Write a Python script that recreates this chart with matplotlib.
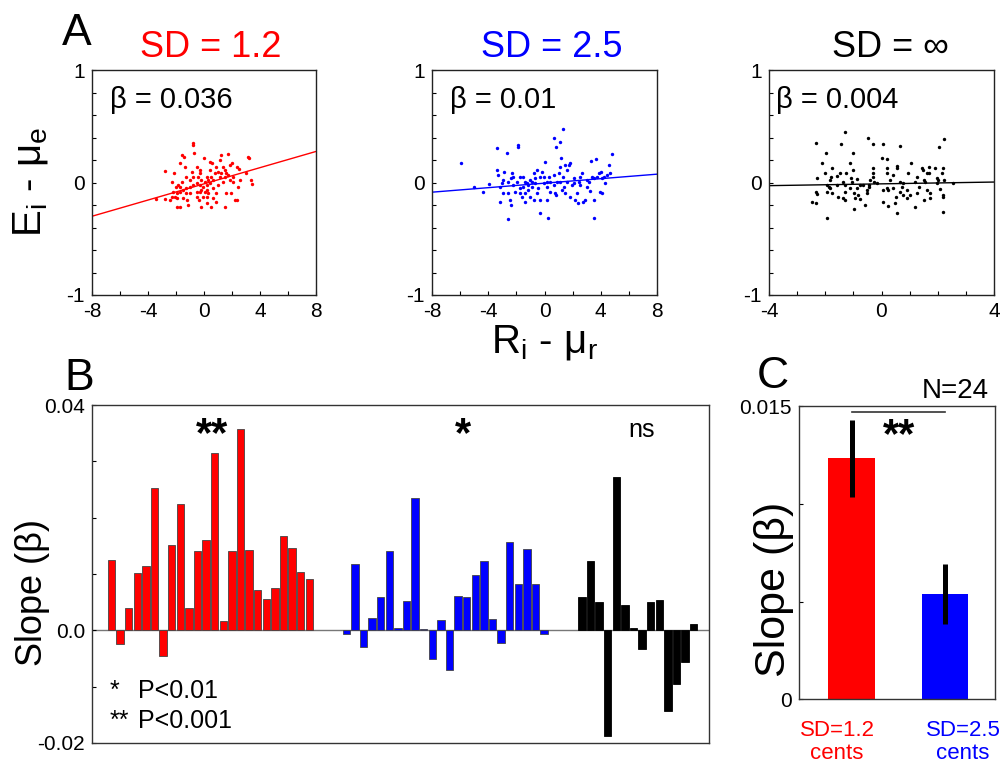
import numpy as np
import matplotlib
matplotlib.use("Agg")
import matplotlib.pyplot as plt

plt.rcParams['font.family'] = ['Liberation Sans', 'DejaVu Sans']
plt.rcParams['mathtext.fontset'] = 'custom'
plt.rcParams['mathtext.rm'] = 'Liberation Sans'
plt.rcParams['axes.unicode_minus'] = False

# ---------------- data ----------------
# Panel A scatter (R_i - mu_r, E_i - mu_e)
x_sd12 = [-0.82,-0.82,-0.73,-1.58,-1.41,-2.75,-2.13,-2.27,-2.03,-2.20,-1.72,-1.34,-0.49,-0.27,0.01,0.46,0.58,1.13,1.22,1.72,
          1.37,1.53,1.84,2.01,2.34,2.53,3.15,3.22,3.39,3.44,2.56,2.41,2.37,1.51,0.51,-0.20,-0.37,-0.53,-1.22,-1.72,
          -1.96,-3.44,-2.75,-1.96,-1.49,-1.01,-0.30,0.18,0.65,1.01,1.37,1.84,2.08,1.60,1.13,0.65,0.42,0.18,-0.06,-0.30,
          -0.53,-0.77,-1.01,-1.25,-1.49,-1.72,-1.96,-2.08,-2.32,-2.44,-1.01,-0.77,-0.42,-0.18,0.06,0.30,0.53,0.77,1.01,1.25,
          1.49,1.72,2.08,1.96,1.60,0.89,0.65,0.18,-0.06,-0.53,-1.25,-1.72,0.18,0.42,0.89,-0.30,-0.89,-1.25,-1.60,-1.84,
          0.18,-1.13,0.89,2.20,3.03,0.30,0.06,-0.18]
y_sd12 = [0.354,0.330,0.259,0.244,0.224,0.105,0.081,0.007,-0.037,-0.081,0.170,0.141,0.141,0.081,0.215,0.185,0.170,0.200,0.244,0.253,
          0.135,0.111,0.156,0.170,0.141,0.120,0.230,0.215,0.022,-0.013,0.022,-0.037,-0.156,-0.215,-0.215,-0.221,-0.156,-0.126,-0.156,-0.215,
          -0.215,-0.150,-0.150,-0.141,-0.141,-0.096,-0.081,-0.067,-0.052,-0.022,0.007,0.022,0.052,0.081,0.052,0.022,-0.007,-0.022,-0.037,-0.022,
          -0.007,-0.022,-0.037,-0.052,-0.067,-0.081,-0.096,-0.126,-0.126,-0.156,0.022,0.052,0.052,0.022,0.007,0.022,0.052,0.081,0.096,0.081,
          0.052,0.067,0.007,-0.096,-0.096,-0.096,-0.141,-0.126,-0.126,-0.081,-0.096,-0.037,0.052,0.111,0.141,0.111,0.096,0.052,0.007,-0.022,
          -0.185,-0.200,-0.170,-0.156,0.081,-0.096,-0.081,-0.067]

x_sd25 = [-5.96,-4.99,-4.39,-3.94,-3.40,-3.40,-3.28,-3.16,-3.04,-2.92,-2.87,-2.68,-2.61,-2.45,-2.40,-2.40,-2.33,-2.21,-2.09,-1.97,
          -1.90,-1.85,-1.73,-1.62,-1.54,-1.50,-1.38,-1.26,-1.14,-1.02,-0.90,-0.78,-0.67,-0.55,-0.43,-0.31,-0.19,-0.07,0.05,0.17,
          0.29,0.40,0.64,0.76,0.83,0.88,1.00,1.12,1.16,1.12,1.31,0.81,0.64,1.35,1.40,1.47,1.59,1.71,1.83,1.83,
          1.95,2.07,2.19,2.30,2.35,2.42,2.54,2.66,2.73,2.90,3.02,3.14,3.25,3.30,3.37,3.49,3.54,3.68,3.73,3.85,
          3.97,4.01,4.09,4.20,4.32,4.44,4.56,4.63,4.82,-0.31,0.24,-2.57,-3.16,-2.92,-2.57,-2.21,-1.73,-1.38,-1.14,-0.90,
          -0.67,-0.31,-0.07,0.17,0.40,0.64,1.12,1.59,2.07,2.54,3.02,3.49,4.09,-1.73,-1.38,-1.02,-0.78,-0.55,0.17,1.24,1.47]
y_sd25 = [0.176,-0.037,-0.081,-0.016,0.310,0.111,0.067,-0.170,-0.007,0.022,0.096,0.259,-0.090,-0.156,-0.200,0.037,0.081,-0.022,-0.081,0.007,
          0.319,0.333,-0.052,-0.126,0.052,-0.037,-0.096,-0.007,-0.067,0.022,0.007,0.081,-0.007,0.111,-0.052,-0.156,0.096,-0.007,0.179,-0.037,
          0.052,-0.081,0.067,-0.096,-0.111,0.007,0.081,0.141,0.221,0.363,0.476,0.319,0.393,0.052,-0.037,0.156,0.111,0.156,0.170,-0.126,
          -0.022,0.037,-0.156,-0.096,-0.185,0.007,0.052,0.081,-0.176,-0.156,-0.037,0.007,-0.073,0.191,0.052,-0.156,-0.319,0.206,0.052,0.081,
          -0.081,0.096,-0.096,0.052,-0.007,0.067,0.156,0.081,0.250,-0.268,-0.313,-0.324,-0.037,-0.096,0.007,0.052,0.052,0.007,-0.022,-0.037,
          0.037,0.052,0.052,0.007,0.007,-0.022,0.007,0.007,-0.007,-0.022,0.022,0.037,0.037,-0.096,-0.170,-0.126,-0.156,-0.096,-0.156,-0.067,-0.096]

x_inf = [-2.46,-2.33,-2.33,-2.30,-2.30,-2.34,-2.10,-2.01,-1.97,-1.95,-1.95,-1.95,-1.85,-1.83,-1.79,-1.76,-1.76,-1.59,-1.53,-1.47,
         -1.45,-1.36,-1.30,-1.30,-1.30,-1.30,-1.26,-1.12,-1.08,-1.06,-1.00,-1.00,-0.97,-0.97,-0.94,-0.88,-0.86,-0.82,-0.76,-0.76,
         -0.65,-0.59,-0.53,-0.53,-0.47,-0.43,-0.43,-0.31,-0.31,-0.29,-0.29,-0.27,0.01,0.04,0.04,0.04,0.18,0.18,0.18,0.21,
         0.22,0.24,0.42,0.42,0.48,0.52,0.54,0.54,0.56,0.66,0.66,0.66,0.72,0.78,0.89,0.92,0.95,1.01,1.04,1.19,
         1.19,1.25,1.34,1.43,1.48,1.51,1.51,1.55,1.61,1.70,1.70,1.72,1.72,1.90,1.96,2.02,2.06,2.08,2.20,2.20,
         2.20,2.20,2.22,2.22,2.53,-1.83,-1.59,-1.36,-1.12,-0.41,-0.17,0.30,0.78,1.25,1.61,1.96,2.14]
y_inf = [-0.170,-0.179,0.348,0.037,-0.102,-0.081,0.170,0.087,0.265,-0.022,-0.313,-0.081,-0.037,0.022,0.052,0.126,-0.090,0.058,-0.126,0.087,
         0.342,-0.141,0.446,-0.022,-0.081,-0.156,0.081,0.170,0.037,0.007,0.265,0.111,-0.096,-0.236,-0.141,0.028,-0.046,-0.111,-0.022,-0.150,
         -0.022,-0.200,-0.096,-0.067,0.399,-0.022,-0.037,0.081,0.052,0.339,0.126,0.007,0.221,0.339,-0.067,-0.170,0.081,-0.052,0.206,0.132,
         -0.209,-0.067,-0.052,0.067,-0.179,-0.126,0.126,0.147,-0.268,0.327,0.007,-0.081,-0.037,-0.111,-0.141,-0.067,0.081,-0.111,0.170,0.001,
         -0.221,-0.090,-0.037,0.126,0.111,0.022,-0.156,0.007,0.081,0.081,0.141,-0.096,-0.141,0.126,0.037,0.022,0.319,-0.058,0.126,-0.111,
         -0.126,-0.259,0.384,0.022,-0.007,-0.052,-0.022,0.007,-0.052,0.022,-0.007,0.022,-0.007,0.052,-0.067,-0.001,0.081]

a_titles = ['SD = 1.2', 'SD = 2.5', 'SD = \u221e']
a_colors = ['#ff0000', '#0000ff', '#000000']
a_betas = [0.036, 0.01, 0.004]
a_intercepts = [-0.012, -0.006, -0.012]
a_beta_labels = ['\u03b2 = 0.036', '\u03b2 = 0.01', '\u03b2 = 0.004']

# Panel B slopes per subject
slopes_sd12 = [0.0125, -0.0025, 0.0039, 0.0101, 0.0115, 0.0253, -0.0046, 0.0151, 0.0225, 0.0039, 0.0141, 0.0160,
               0.0314, 0.0017, 0.0141, 0.0358, 0.0142, 0.0071, 0.0056, 0.0076, 0.0167, 0.0147, 0.0104, 0.0092]
slopes_sd25 = [-0.0006, 0.0118, -0.0030, 0.0022, 0.0059, 0.0141, 0.0005, 0.0052, 0.0235, 0.0003, -0.0051, 0.0019,
               -0.0070, 0.0061, 0.0059, 0.0099, 0.0123, 0.0021, -0.0022, 0.0157, 0.0082, 0.0144, 0.0083, -0.0006]
slopes_inf = [0.0060, 0.0123, 0.0050, -0.0188, 0.0273, 0.0045, 0.0004, -0.0033, 0.0050, 0.0053, -0.0143, -0.0096,
              -0.0056, 0.0012]

# Panel C mean slopes
c_means = [0.01233, 0.00537]
c_errs = [0.00196, 0.00153]
c_labels = ['SD=1.2\ncents', 'SD=2.5\ncents']

# ---------------- figure ----------------
W, H = 1007, 769
fig = plt.figure(figsize=(W / 100, H / 100), dpi=100)

def rect(l, r, t, b):
    return [l / W, 1 - b / H, (r - l) / W, (b - t) / H]

def px(x, y):
    return (x / W, 1 - y / H)

a_rects = [rect(92, 316, 70, 295), rect(432, 657, 70, 295), rect(769, 994, 70, 295)]
a_xlims = [(-8, 8), (-8, 8), (-4, 4)]
a_xdata = [x_sd12, x_sd25, x_inf]
a_ydata = [y_sd12, y_sd25, y_inf]
title_pos = [(211, 57), (552, 57), (890, 57)]
beta_pos = [(110, 108), (450, 108), (776, 108)]

for i in range(3):
    ax = fig.add_axes(a_rects[i])
    ax.scatter(a_xdata[i], a_ydata[i], s=6, color=a_colors[i], linewidths=0, zorder=3)
    xl = np.array(a_xlims[i], dtype=float)
    ax.plot(xl, a_betas[i] * xl + a_intercepts[i], color=a_colors[i], lw=1.0)
    ax.set_xlim(*a_xlims[i])
    ax.set_ylim(-1, 1)
    if i < 2:
        ax.set_xticks(np.arange(-8, 9, 2))
        ax.set_xticklabels(['-8', '', '-4', '', '0', '', '4', '', '8'])
    else:
        ax.set_xticks(np.arange(-4, 5, 1))
        ax.set_xticklabels(['-4', '', '', '', '0', '', '', '', '4'])
    ax.set_yticks(np.linspace(-1, 1, 11))
    ax.set_yticklabels(['-1', '', '', '', '', '0', '', '', '', '', '1'])
    ax.tick_params(direction='in', length=3, width=0.8, labelsize=15, pad=5)
    for s in ax.spines.values():
        s.set_linewidth(1.0)
        s.set_color('#222222')
    fig.text(*px(*title_pos[i]), a_titles[i], color=a_colors[i], fontsize=26,
             ha='center', va='baseline')
    fig.text(*px(*beta_pos[i]), a_beta_labels[i], fontsize=21, ha='left', va='baseline')

mu = '\u03bc'
fig.text(*px(30, 182), 'E$_\\mathregular{i}$ - ' + mu + '$_\\mathregular{e}$',
         fontsize=29, rotation=90, ha='center', va='center')
fig.text(*px(545, 352), 'R$_\\mathregular{i}$ - ' + mu + '$_\\mathregular{r}$',
         fontsize=29, ha='center', va='baseline')

# Panel B
axb = fig.add_axes(rect(92, 709, 405, 743))
xr = np.arange(len(slopes_sd12))
xb = 27.3 + np.arange(len(slopes_sd25))
xk = 54.7 + np.arange(len(slopes_inf))
axb.bar(xr, slopes_sd12, width=0.85, color='#ff0000', edgecolor='#444444', linewidth=0.6, zorder=2)
axb.bar(xb, slopes_sd25, width=0.85, color='#0000ff', edgecolor='#444444', linewidth=0.6, zorder=2)
axb.bar(xk, slopes_inf, width=0.85, color='#000000', edgecolor='#000000', linewidth=0.6, zorder=2)
axb.axhline(0, color='#777777', lw=1.0, zorder=1)
axb.set_xlim(-2.27, 69.48)
axb.set_ylim(-0.02, 0.04)
axb.set_xticks([])
axb.set_yticks([-0.02, -0.01, 0, 0.01, 0.02, 0.03, 0.04])
axb.set_yticklabels(['-0.02', '', '0.0', '', '', '', '0.04'])
axb.tick_params(axis='y', direction='in', length=3, width=0.8, labelsize=15, pad=5)
for s in axb.spines.values():
    s.set_linewidth(1.0)
    s.set_color('#333333')
fig.text(*px(33, 592), 'Slope (\u03b2)', fontsize=26, rotation=90, ha='center', va='center')
fig.text(*px(212, 446), '**', fontsize=30, fontweight='bold', ha='center', va='baseline')
fig.text(*px(463, 446), '*', fontsize=30, fontweight='bold', ha='center', va='baseline')
fig.text(*px(642, 437), 'ns', fontsize=18, ha='center', va='baseline')
fig.text(*px(110, 698), '*', fontsize=18, ha='left', va='baseline')
fig.text(*px(138, 698), 'P<0.01', fontsize=18, ha='left', va='baseline')
fig.text(*px(110, 728), '**', fontsize=18, ha='left', va='baseline')
fig.text(*px(138, 728), 'P<0.001', fontsize=18, ha='left', va='baseline')

# Panel C
axc = fig.add_axes(rect(798.7, 995, 406, 699.3))
cx = [1, 2]
axc.bar(cx, c_means, width=0.5, color=['#ff0000', '#0000ff'], zorder=2)
axc.errorbar(cx, c_means, yerr=c_errs, fmt='none', ecolor='black', elinewidth=3.6, capsize=0, zorder=3)
axc.plot([1, 2], [0.01471, 0.01471], color='#333333', lw=1.2)
axc.set_xlim(0.432, 2.536)
axc.set_ylim(0, 0.015)
axc.set_xticks([])
axc.set_yticks([0, 0.005, 0.01, 0.015])
axc.set_yticklabels(['0', '', '', '0.015'])
axc.tick_params(axis='y', direction='in', length=3, width=0.8, labelsize=15, pad=5)
for s in axc.spines.values():
    s.set_linewidth(1.0)
    s.set_color('#333333')
fig.text(*px(774, 589), 'Slope (\u03b2)', fontsize=31, rotation=90, ha='center', va='center')
fig.text(*px(899, 447), '**', fontsize=30, fontweight='bold', ha='center', va='baseline')
fig.text(*px(955, 398), 'N=24', fontsize=20, ha='center', va='baseline')
fig.text(*px(837, 742), c_labels[0], color='#ff0000', fontsize=16, ha='center', va='center',
         linespacing=1.1)
fig.text(*px(963, 742), c_labels[1], color='#0000ff', fontsize=16, ha='center', va='center',
         linespacing=1.1)

# Panel letters
fig.text(*px(62, 45), 'A', fontsize=32, ha='left', va='baseline')
fig.text(*px(64, 390), 'B', fontsize=32, ha='left', va='baseline')
fig.text(*px(757, 388), 'C', fontsize=32, ha='left', va='baseline')

fig.savefig('out.png', dpi=100)
